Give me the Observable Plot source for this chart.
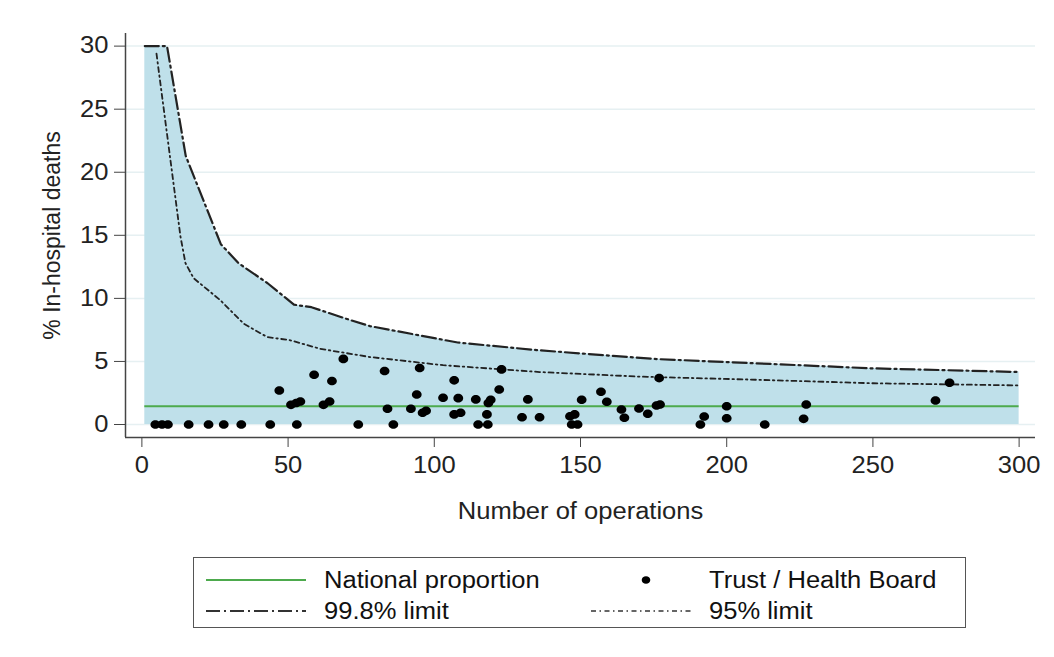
<!DOCTYPE html>
<html>
<head>
<meta charset="utf-8">
<script src="https://cdn.jsdelivr.net/npm/d3@7"></script>
<script src="https://cdn.jsdelivr.net/npm/@observablehq/plot@0.6"></script>
<style>
  body { margin: 0; background: #fff; font-family: "Liberation Sans", Arial, sans-serif; }
  #wrap { position: relative; width: 1054px; height: 657px; }
  #legend { position: absolute; left: 193px; top: 557px; width: 773px; height: 71px; border: 1px solid #555; box-sizing: border-box; }
</style>
</head>
<body>
<div id="wrap">
  <div id="chart"></div>
  <div id="legend"></div>
</div>
<script>
// ---- data ----
const nationalProportion = 1.45;

const limit998N   = [1, 8.6, 15, 27, 33, 43, 52, 58, 71, 78, 108, 135, 175, 208, 250, 300];
const limit998Pct = [30, 30, 21.3, 14.3, 12.8, 11.2, 9.5, 9.3, 8.3, 7.8, 6.5, 5.9, 5.2, 4.87, 4.45, 4.16];

const limit95N   = [5, 13.2, 14.9, 17.7, 26.8, 34.8, 42.8, 50.7, 61, 78, 103, 136, 170, 210, 250, 300];
const limit95Pct = [29.4, 14.9, 12.8, 11.6, 9.86, 8.0, 6.94, 6.68, 6.0, 5.35, 4.7, 4.16, 3.8, 3.55, 3.27, 3.1];

const trustN = [
  4.6, 6.9, 8.9, 16, 22.8, 28, 34, 43.9, 53, 74, 86, 115, 118.3, 147, 149, 191, 213,
  47, 51, 52.8, 54.2, 58.9, 62.1, 64.2, 65, 68.9, 83, 84, 92, 94, 95, 96, 97.2, 103,
  106.8, 108.2, 106.8, 109, 114.2, 118, 118.5, 119.3, 122.2, 123, 130, 132, 136,
  146.4, 148, 150.4, 157, 159, 164, 165, 170, 173, 176, 177.2, 176.9, 192.3, 200, 200,
  226.3, 227.2, 271.4, 276.2
];
const trustPct = [
  0, 0, 0, 0, 0, 0, 0, 0, 0, 0, 0, 0, 0, 0, 0, 0, 0,
  2.7, 1.56, 1.7, 1.83, 3.95, 1.56, 1.83, 3.45, 5.2, 4.24, 1.25, 1.25, 2.38, 4.48, 0.93, 1.09, 2.12,
  3.5, 2.09, 0.8, 0.93, 1.99, 0.8, 1.7, 1.96, 2.78, 4.37, 0.58, 1.99, 0.58,
  0.66, 0.8, 1.96, 2.6, 1.8, 1.19, 0.53, 1.27, 0.85, 1.51, 1.59, 3.68, 0.64, 1.45, 0.5,
  0.45, 1.59, 1.9, 3.31
];

const xTicks = [0, 50, 100, 150, 200, 250, 300];
const yTicks = [0, 5, 10, 15, 20, 25, 30];
const xLabel = "Number of operations";
const yLabel = "% In-hospital deaths";
const legendLabels = ["National proportion", "Trust / Health Board", "99.8% limit", "95% limit"];

// ---- derived tables ----
const upper = limit998N.map((n, i) => ({n, v: limit998Pct[i]}));
const lower = limit95N.map((n, i) => ({n, v: limit95Pct[i]}));
const trusts = trustN.map((n, i) => ({n, v: trustPct[i]}));
const xMin = -5.6, xMax = 305.6, yMin = -1.03, yMax = 31.0;

const dash998 = "14,4,2,4";
const dash95 = "5,3.5,1.5,3.5";
const green = "#4daa4d";
const fillBlue = "#bfe0ea";
const fontFam = "Liberation Sans, Arial, sans-serif";
const stretch = 1.11;

// slightly wide dot, as in the reference
const K = 0.5523;
function ellipsePath(ctx, rx, ry) {
  ctx.moveTo(rx, 0);
  ctx.bezierCurveTo(rx, K * ry, K * rx, ry, 0, ry);
  ctx.bezierCurveTo(-K * rx, ry, -rx, K * ry, -rx, 0);
  ctx.bezierCurveTo(-rx, -K * ry, -K * rx, -ry, 0, -ry);
  ctx.bezierCurveTo(K * rx, -ry, rx, -K * ry, rx, 0);
  ctx.closePath();
}
const wideDot = {draw(ctx, size) { ellipsePath(ctx, 4.9, 4.3); }};

const chart = Plot.plot({
  width: 1054,
  height: 540,
  marginLeft: 125,
  marginRight: 19,
  marginTop: 33,
  marginBottom: 103,
  style: {fontFamily: fontFam, fontSize: "23px", color: "#222", background: "transparent"},
  x: {domain: [xMin, xMax]},
  y: {domain: [yMin, yMax]},
  marks: [
    Plot.ruleY(yTicks, {stroke: "#e6f0f2", strokeWidth: 1.5}),
    Plot.areaY(upper, {x: "n", y: "v", fill: fillBlue}),
    Plot.ruleY([nationalProportion], {x1: 1, x2: 300, stroke: green, strokeWidth: 2}),
    Plot.line(upper, {x: "n", y: "v", stroke: "#222", strokeWidth: 2.2, strokeDasharray: dash998}),
    Plot.line(lower, {x: "n", y: "v", stroke: "#222", strokeWidth: 1.8, strokeDasharray: dash95}),
    Plot.dot(trusts, {x: "n", y: "v", symbol: wideDot, fill: "#000", stroke: "none"}),
    Plot.ruleX([xMin], {stroke: "#444", strokeWidth: 1.5}),
    Plot.ruleY([yMin], {stroke: "#444", strokeWidth: 1.5}),
    Plot.axisX({ticks: xTicks, tickSize: 10, tickPadding: 9, tickFormat: d => String(d), stroke: "#444",
      label: xLabel, labelAnchor: "center", labelArrow: "none", labelOffset: 81, fontSize: 23}),
    Plot.axisY({ticks: yTicks, tickSize: 11, tickPadding: 6, tickFormat: d => String(d), stroke: "#444",
      label: yLabel, labelAnchor: "center", labelArrow: "none", labelOffset: 82, fontSize: 23})
  ]
});
document.getElementById("chart").appendChild(chart);

// ---- legend ----
const ns = "http://www.w3.org/2000/svg";
const lg = document.createElementNS(ns, "svg");
lg.setAttribute("width", 771);
lg.setAttribute("height", 69);
lg.style.position = "absolute";
lg.style.left = "0px";
lg.style.top = "0px";
document.getElementById("legend").appendChild(lg);
function el(tag, attrs, text) {
  const e = document.createElementNS(ns, tag);
  for (const k in attrs) e.setAttribute(k, attrs[k]);
  if (text) e.textContent = text;
  lg.appendChild(e);
  return e;
}
const r1 = 22, r2 = 53;
const txt = {"dominant-baseline": "central", "font-size": 23, fill: "#111", "font-family": fontFam};
el("line", {x1: 12, x2: 112, y1: r1, y2: r1, stroke: green, "stroke-width": 2});
el("text", {x: 130, y: r1, ...txt}, legendLabels[0]);
el("path", {d: (() => { const p = d3.path(); ellipsePath(p, 4.3, 3.8); return p.toString(); })(), transform: `translate(452,${r1})`, fill: "#000"});
el("text", {x: 515, y: r1, ...txt}, legendLabels[1]);
el("line", {x1: 12, x2: 112, y1: r2, y2: r2, stroke: "#333", "stroke-width": 2, "stroke-dasharray": dash998});
el("text", {x: 130, y: r2, ...txt}, legendLabels[2]);
el("line", {x1: 397, x2: 497, y1: r2, y2: r2, stroke: "#333", "stroke-width": 1.6, "stroke-dasharray": dash95});
el("text", {x: 515, y: r2, ...txt}, legendLabels[3]);

// The reference's lettering is slightly wide: stretch horizontal text only.
document.querySelectorAll("#wrap svg text").forEach(t => {
  const tr = t.getAttribute("transform") || "";
  if (tr.includes("rotate")) return;
  const len = t.getComputedTextLength();
  if (len > 0) {
    t.setAttribute("textLength", (len * stretch).toFixed(2));
    t.setAttribute("lengthAdjust", "spacingAndGlyphs");
  }
});
</script>
</body>
</html>
